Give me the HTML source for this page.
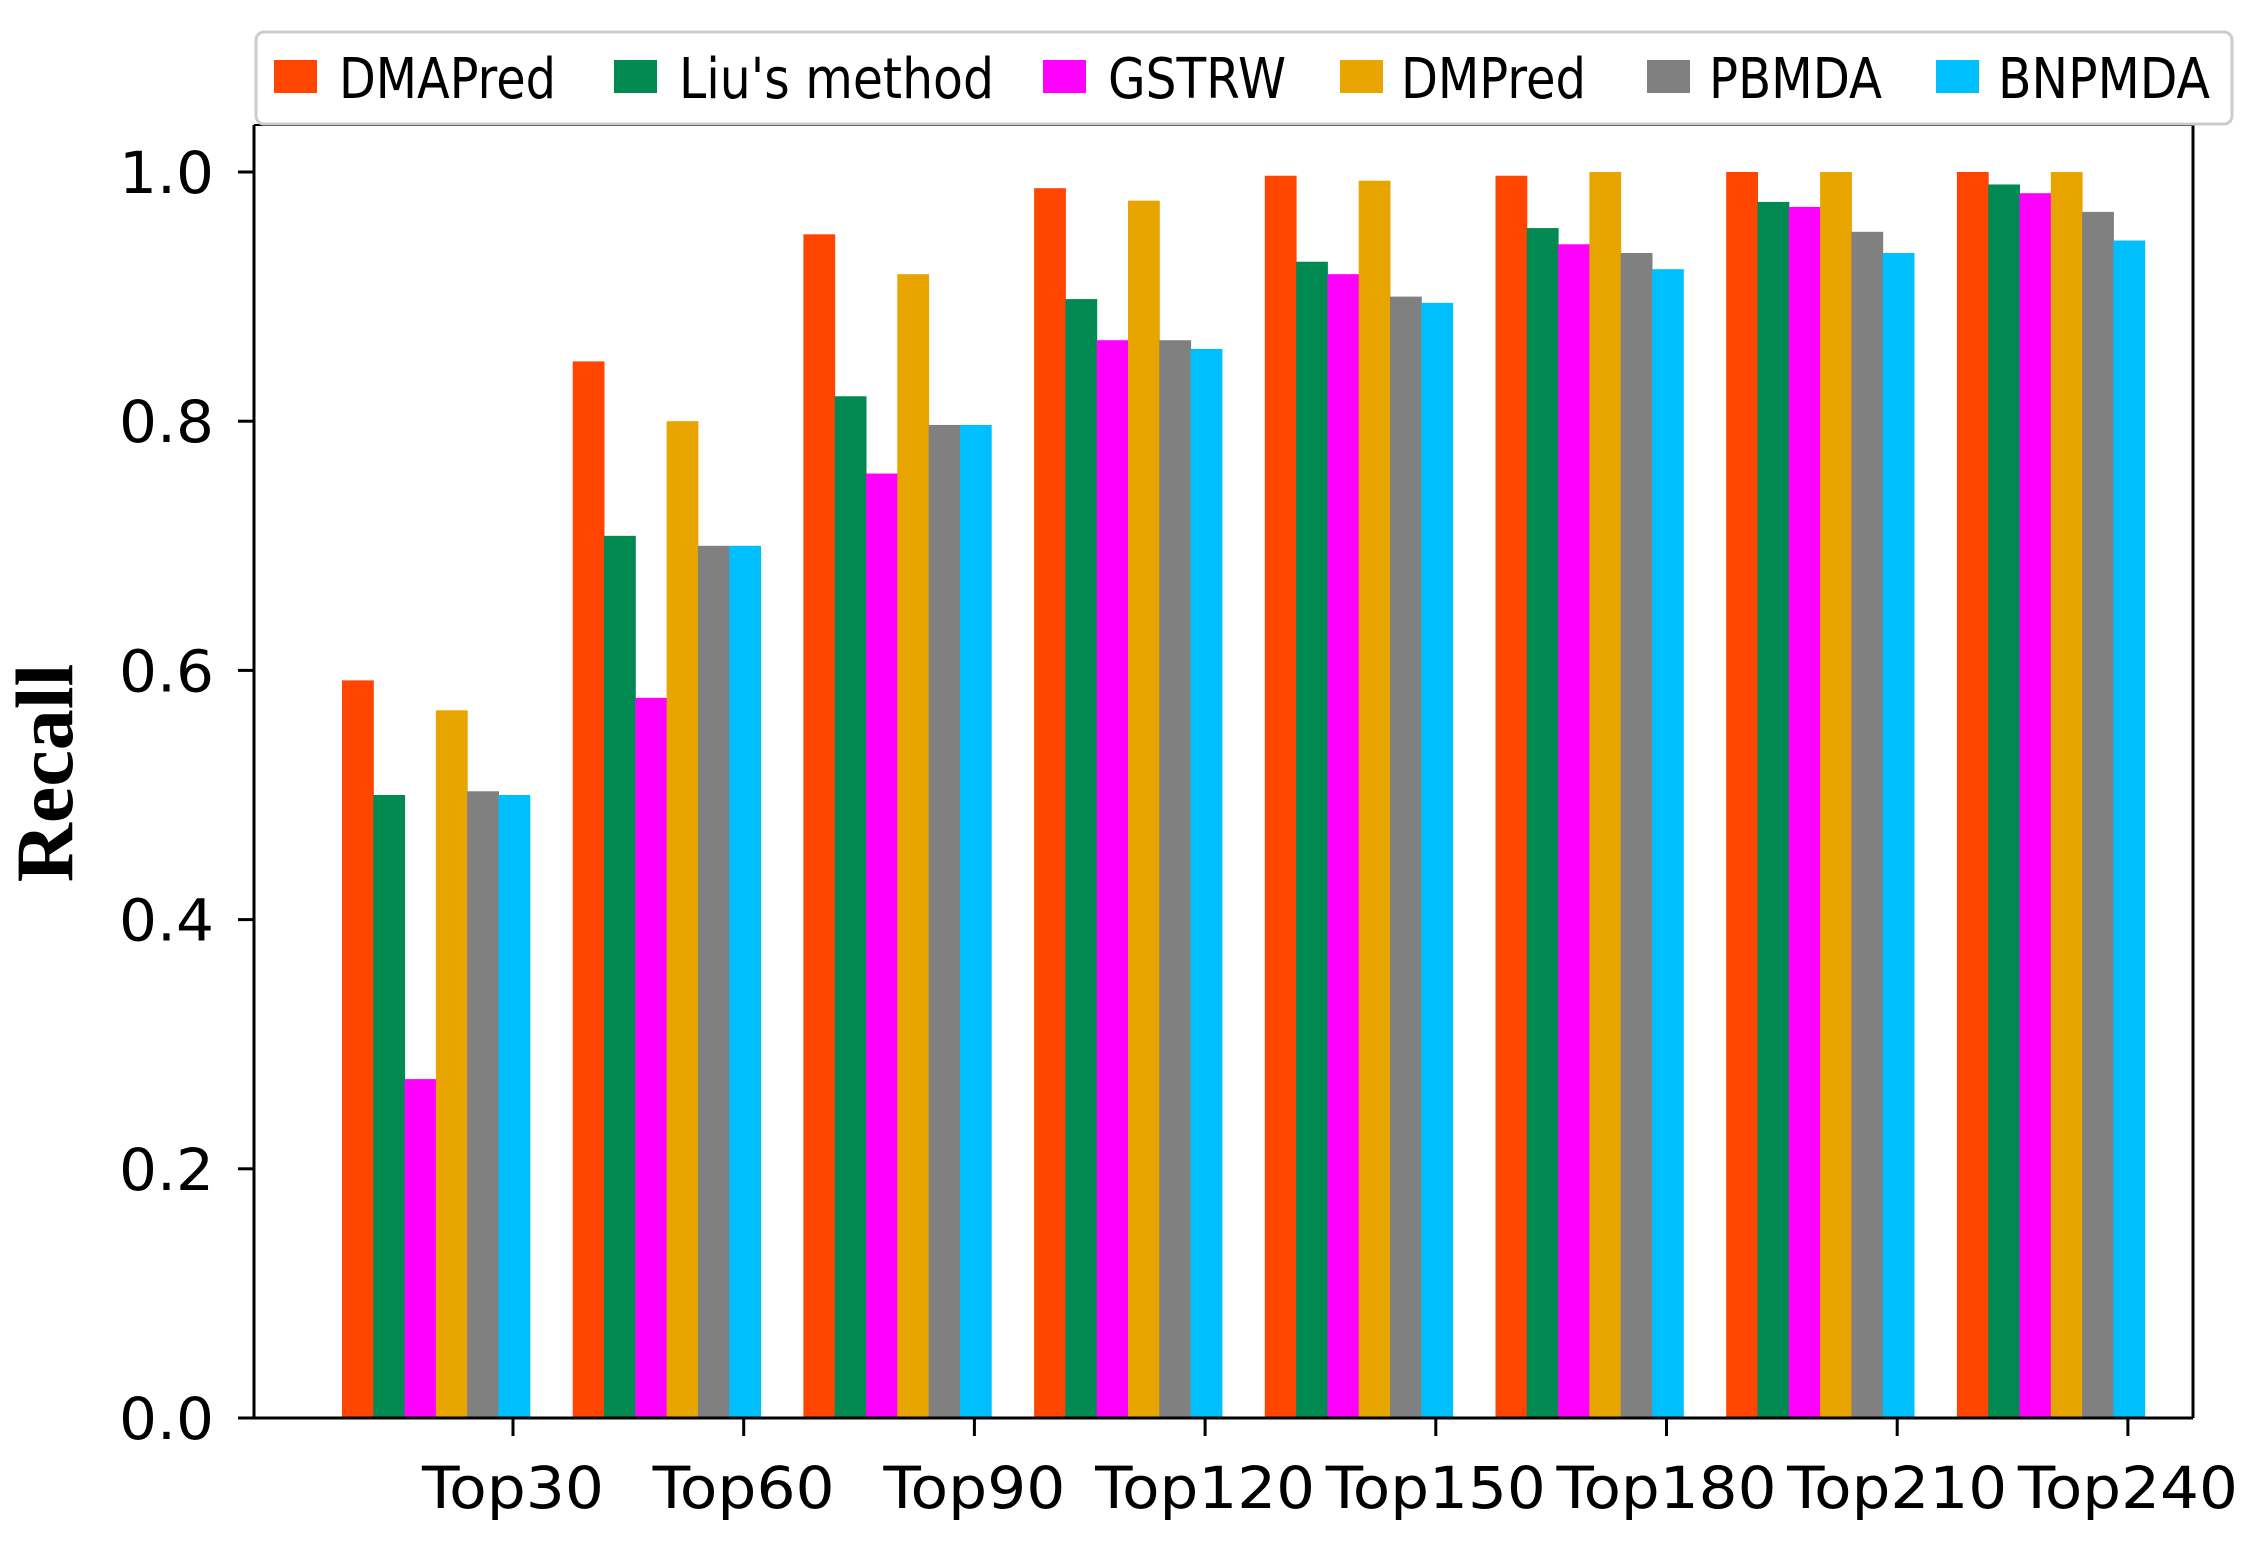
<!DOCTYPE html>
<html><head><meta charset="utf-8"><style>html,body{margin:0;padding:0;background:#fff}</style></head>
<body>
<svg xmlns="http://www.w3.org/2000/svg" width="2265" height="1545" viewBox="0 0 2265 1545">
<rect width="2265" height="1545" fill="#fff"/>
<g id="bars"></g>
</svg>
<script>
const data=[[0.592,0.50,0.272,0.568,0.503,0.50],[0.848,0.708,0.578,0.80,0.70,0.70],[0.950,0.820,0.758,0.918,0.797,0.797],[0.987,0.898,0.865,0.977,0.865,0.858],[0.997,0.928,0.918,0.993,0.900,0.895],[0.997,0.955,0.942,1.0,0.935,0.922],[1.0,0.976,0.972,1.0,0.952,0.935],[1.0,0.990,0.983,1.0,0.968,0.945]];
const cols=["#ff4500","#008a52","#ff00ff","#e8a500","#808080","#00bfff"];
const names=["DMAPred","Liu's method","GSTRW","DMPred","PBMDA","BNPMDA"];
const lx=[274,614,1043,1340,1647,1936],tx=[339,679,1108,1401,1709,1998],tw=[217,315,178,185,173,212];
const y0=1418,H=1246,L=254,R=2193;
let s='';
data.forEach((g,k)=>g.forEach((v,i)=>{const x=342+k*230.7+i*31.3;s+=`<rect x="${x}" y="${y0-v*H}" width="31.8" height="${v*H}" fill="${cols[i]}"/>`;}));
s+=`<line x1="${L}" y1="125" x2="${L}" y2="${y0}" stroke="#000" stroke-width="3"/><line x1="${L}" y1="${y0}" x2="${R}" y2="${y0}" stroke="#000" stroke-width="3"/><line x1="${R}" y1="125" x2="${R}" y2="${y0}" stroke="#000" stroke-width="3"/><line x1="${L}" y1="125" x2="${R}" y2="125" stroke="#000" stroke-width="2"/>`;
for(let j=0;j<=5;j++){const y=y0-j*0.2*H;s+=`<line x1="238" y1="${y}" x2="${L}" y2="${y}" stroke="#000" stroke-width="3"/><text x="214" y="${y+21}" text-anchor="end" font-size="58" font-family="DejaVu Sans, sans-serif" textLength="95" lengthAdjust="spacingAndGlyphs">${(j*0.2).toFixed(1)}</text>`;}
const xl=["Top30","Top60","Top90","Top120","Top150","Top180","Top210","Top240"];
xl.forEach((t,k)=>{const x=513+k*230.7;s+=`<line x1="${x}" y1="${y0}" x2="${x}" y2="${y0+18}" stroke="#000" stroke-width="3"/><text x="${x}" y="1508" text-anchor="middle" font-size="58" font-family="DejaVu Sans, sans-serif" textLength="${t.length==5?182:220}" lengthAdjust="spacingAndGlyphs">${t}</text>`;});
s+=`<rect x="256" y="32" width="1976" height="92" rx="8" fill="#fff" fill-opacity="0.9" stroke="#ccc" stroke-width="3"/>`;
names.forEach((n,i)=>{s+=`<rect x="${lx[i]}" y="60" width="43" height="33" fill="${cols[i]}"/><text x="${tx[i]}" y="98" font-size="56" font-family="DejaVu Sans, sans-serif" textLength="${tw[i]}" lengthAdjust="spacingAndGlyphs">${n}</text>`;});
s+=`<text transform="translate(72,773) rotate(-90)" text-anchor="middle" font-size="82" font-weight="bold" font-family="Liberation Serif, serif">Recall</text>`;
document.getElementById('bars').innerHTML=s;
</script>
</body></html>
